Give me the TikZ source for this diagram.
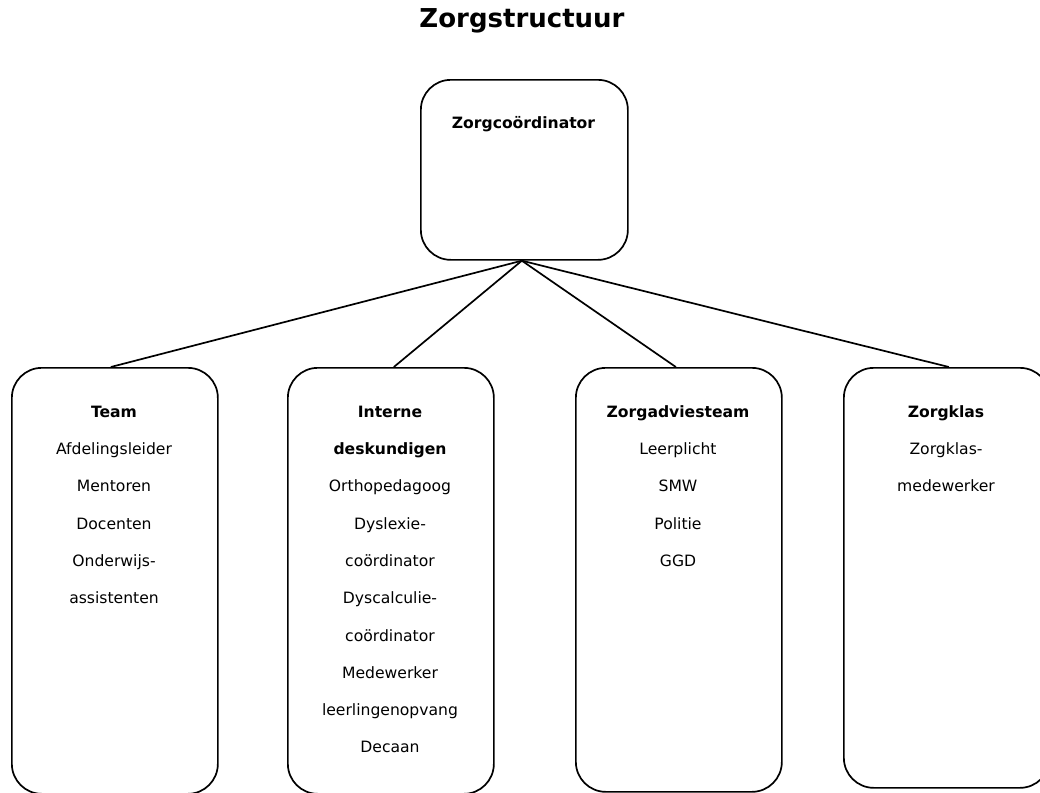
\documentclass[tikz,border=0pt]{standalone}
\usepackage{fontspec}
\setmainfont{DejaVu Sans}
\begin{document}
\begin{tikzpicture}[x=1pt,y=-1pt,
  box/.style={draw, line width=1.7pt, rounded corners=30pt, rectangle, anchor=north west, inner sep=0pt, minimum width=206pt},
  txt/.style={anchor=north, inner sep=0pt, align=center, font=\fontsize{15.6}{37.3}\selectfont},
  conn/.style={line width=1.7pt}]
\useasboundingbox (0,0) rectangle (1040,792);
\clip (0,0) rectangle (1040,792);
\node[anchor=base, inner sep=0pt, font=\fontsize{26}{30}\selectfont\bfseries] (title) at (522,28) {Zorgstructuur};
\node[box, minimum width=207pt, minimum height=180pt] (top) at (420,79) {};
\node[box, minimum height=426pt] (team) at (11,367) {};
\node[box, minimum height=426pt] (intern) at (287,367) {};
\node[box, minimum height=424pt] (zat) at (575,367) {};
\node[box, minimum height=420pt] (zk) at (843,367) {};
\node[txt] (ttop) at (523.5,101.9) {\strut\textbf{Zorgcoördinator}};
\node[txt] (tteam) at (114,390.9) {\strut\textbf{Team}\\Afdelingsleider\\Mentoren\\Docenten\\Onderwijs-\\assistenten};
\node[txt] (tintern) at (390,390.9) {\strut\textbf{Interne}\\\textbf{deskundigen}\\Orthopedagoog\\Dyslexie-\\coördinator\\Dyscalculie-\\coördinator\\Medewerker\\leerlingenopvang\\Decaan};
\node[txt] (tzat) at (678,390.9) {\strut\textbf{Zorgadviesteam}\\Leerplicht\\SMW\\Politie\\GGD};
\node[txt] (tzk) at (946,390.9) {\strut\textbf{Zorgklas}\\Zorgklas-\\medewerker};
\draw[conn] ([xshift=-2.5pt]top.south) -- ([xshift=-4pt]team.north);
\draw[conn] ([xshift=-2.5pt]top.south) -- ([xshift=3pt]intern.north);
\draw[conn] ([xshift=-2.5pt]top.south) -- ([xshift=-3pt]zat.north);
\draw[conn] ([xshift=-2.5pt]top.south) -- ([xshift=2pt]zk.north);
\end{tikzpicture}
\end{document}
